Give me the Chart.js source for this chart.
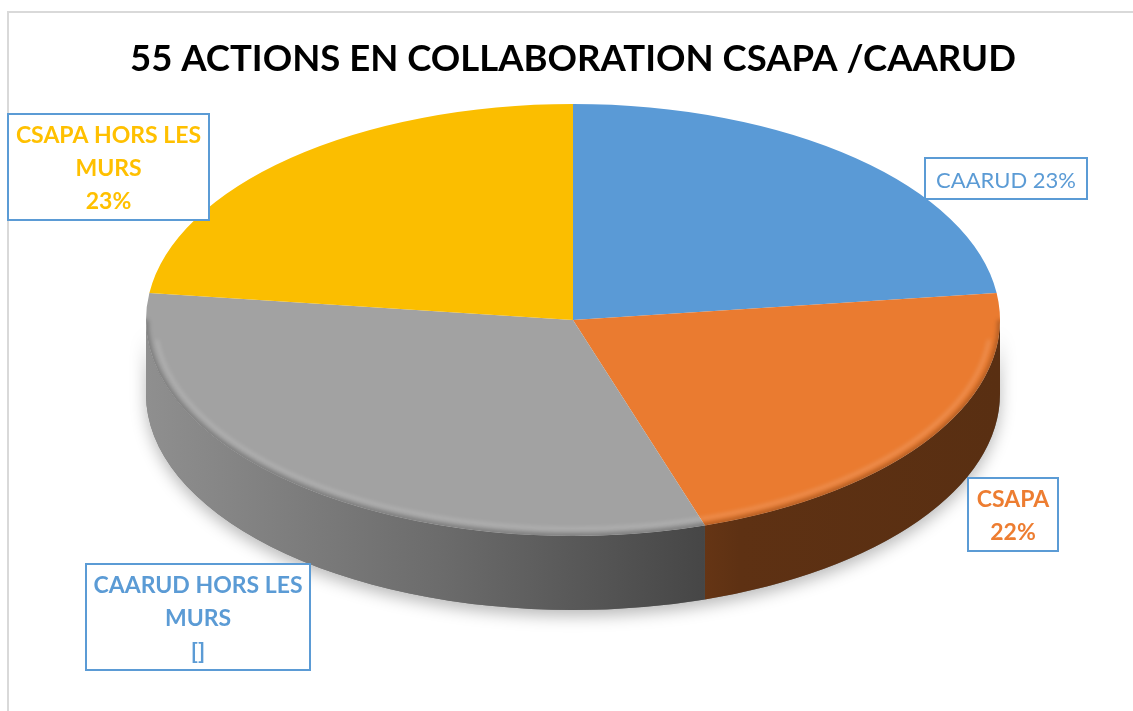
<!DOCTYPE html>
<html><head><meta charset="utf-8">
<script src="https://cdn.jsdelivr.net/npm/chart.js@4.4.0/dist/chart.umd.min.js"></script>
<style>html,body{margin:0;padding:0;background:#fff;overflow:hidden}#c{display:block}</style>
</head><body>
<canvas id="c" width="1133" height="711"></canvas>
<script>
// ---- data ----
const titleText = '55 ACTIONS EN COLLABORATION CSAPA /CAARUD';
const categories = ['CAARUD', 'CSAPA', 'CAARUD HORS LES MURS', 'CSAPA HORS LES MURS'];
const values = [23, 22, 32, 23];
const valueLabels = ['23%', '22%', '[]', '23%'];

// ---- style ----
const sliceColors = ['#5A9AD6', '#EA7B30', '#A2A2A2', '#FBBE00'];
const labelColors = ['#5B9BD5', '#ED7D31', '#5B9BD5', '#FFC000'];
const FONT = "Lato, 'Open Sans', sans-serif";
const GEO = { cx: 573, cy: 320, rx: 427, ry: 216, depth: 74 };
const LABEL_BOXES = [
  { x: 925, y: 158, w: 162, h: 41, bold: false, size: 22, sep: ' ', wrap: 400 },
  { x: 968, y: 478, w: 90, h: 73, bold: true, size: 23, sep: '\n', wrap: 80 },
  { x: 86, y: 564, w: 224, h: 106, bold: true, size: 23, sep: '\n', wrap: 215 },
  { x: 8, y: 114, w: 201, h: 106, bold: true, size: 23, sep: '\n', wrap: 195 }
];

function shade(hex, f) {
  const n = parseInt(hex.slice(1), 16);
  const r = Math.round(((n >> 16) & 255) * f), g = Math.round(((n >> 8) & 255) * f), b = Math.round((n & 255) * f);
  return `rgb(${r},${g},${b})`;
}

function wallPath(ctx, a1, a2) {
  ctx.beginPath();
  ctx.ellipse(GEO.cx, GEO.cy, GEO.rx, GEO.ry, 0, a1, a2, false);
  ctx.ellipse(GEO.cx, GEO.cy + GEO.depth, GEO.rx, GEO.ry, 0, a2, a1, true);
  ctx.closePath();
}

const pie3d = {
  id: 'pie3d',
  beforeDatasetsDraw(chart) {
    const ctx = chart.ctx;
    const arcs = chart.getDatasetMeta(0).data;
    if (!arcs.length) return;
    // side wall (front half of the disc)
    ctx.save();
    ctx.shadowColor = 'rgba(0,0,0,0.28)';
    ctx.shadowBlur = 16;
    ctx.shadowOffsetY = 6;
    wallPath(ctx, 0, Math.PI);
    ctx.fillStyle = '#777';
    ctx.fill();
    ctx.restore();
    const TAU = Math.PI * 2;
    arcs.forEach((arc, i) => {
      const s = arc.startAngle, e = arc.endAngle;
      for (let k = -1; k <= 1; k++) {
        const lo = Math.max(s, TAU * k), hi = Math.min(e, TAU * k + Math.PI);
        if (hi > lo) {
          const g = ctx.createLinearGradient(GEO.cx - GEO.rx, 0, GEO.cx + GEO.rx, 0);
          const c = sliceColors[i];
          g.addColorStop(0, shade(c, 0.88));
          g.addColorStop(0.35, shade(c, 0.66));
          g.addColorStop(0.695, shade(c, 0.40));
          g.addColorStop(1, shade(c, 0.38));
          wallPath(ctx, lo - TAU * k, hi - TAU * k);
          ctx.fillStyle = g;
          ctx.fill();
        }
      }
    });
    // squash the pie into an ellipse
    const a0 = arcs[0];
    const r = a0.outerRadius;
    ctx.save();
    ctx.translate(GEO.cx, GEO.cy);
    ctx.scale(GEO.rx / r, GEO.ry / r);
    ctx.translate(-a0.x, -a0.y);
  },
  afterDatasetsDraw(chart) {
    const ctx = chart.ctx;
    ctx.restore();
    // soft bevel along the front edge of the top face
    ctx.save();
    ctx.beginPath();
    ctx.ellipse(GEO.cx, GEO.cy, GEO.rx, GEO.ry, 0, 0, Math.PI * 2);
    ctx.clip();
    ctx.filter = 'blur(2px)';
    ctx.beginPath();
    ctx.ellipse(GEO.cx, GEO.cy, GEO.rx - 9, GEO.ry - 7, 0, 0.03 * Math.PI, 0.97 * Math.PI);
    ctx.strokeStyle = 'rgba(255,255,255,0.2)';
    ctx.lineWidth = 3;
    ctx.stroke();
    ctx.beginPath();
    ctx.ellipse(GEO.cx, GEO.cy, GEO.rx, GEO.ry, 0, 0, Math.PI);
    ctx.strokeStyle = 'rgba(0,0,0,0.25)';
    ctx.lineWidth = 5;
    ctx.stroke();
    ctx.restore();
  },
  afterDraw(chart) {
    const ctx = chart.ctx;
    // outer frame
    ctx.save();
    ctx.strokeStyle = '#D9D9D9';
    ctx.lineWidth = 2;
    ctx.beginPath();
    ctx.moveTo(8, 711); ctx.lineTo(8, 12); ctx.lineTo(1133, 12);
    ctx.stroke();
    // data labels
    LABEL_BOXES.forEach((b, i) => {
      ctx.fillStyle = '#fff';
      ctx.fillRect(b.x, b.y, b.w, b.h);
      ctx.strokeStyle = '#5B9BD5';
      ctx.lineWidth = 2;
      ctx.strokeRect(b.x, b.y, b.w, b.h);
      ctx.font = `${b.bold ? 'bold ' : ''}${b.size}px ${FONT}`;
      const words = categories[i].split(' ');
      const lines = [];
      let cur = '';
      words.forEach(w => {
        const t = cur ? cur + ' ' + w : w;
        if (cur && ctx.measureText(t).width > b.wrap) { lines.push(cur); cur = w; } else cur = t;
      });
      if (b.sep === ' ') cur += ' ' + valueLabels[i];
      lines.push(cur);
      if (b.sep !== ' ') lines.push(valueLabels[i]);
      const lh = 33;
      const cx = b.x + b.w / 2, cy = b.y + b.h / 2;
      ctx.fillStyle = labelColors[i];
      ctx.textAlign = 'center';
      ctx.textBaseline = 'middle';
      lines.forEach((l, j) => {
        ctx.fillText(l, cx, cy + (j - (lines.length - 1) / 2) * lh + 2);
      });
    });
    ctx.restore();
  }
};

new Chart(document.getElementById('c'), {
  type: 'pie',
  data: {
    labels: categories,
    datasets: [{ data: values, backgroundColor: sliceColors, borderWidth: 0, clip: false }]
  },
  options: {
    responsive: false,
    animation: false,
    devicePixelRatio: 1,
    layout: { padding: { left: 13 } },
    plugins: {
      legend: { display: false },
      tooltip: { enabled: false },
      title: {
        display: true, text: titleText, color: '#000',
        font: { family: FONT, size: 36.5, weight: 'bold' },
        padding: { top: 37, bottom: 10 }
      }
    }
  },
  plugins: [pie3d]
});
</script>
</body></html>
